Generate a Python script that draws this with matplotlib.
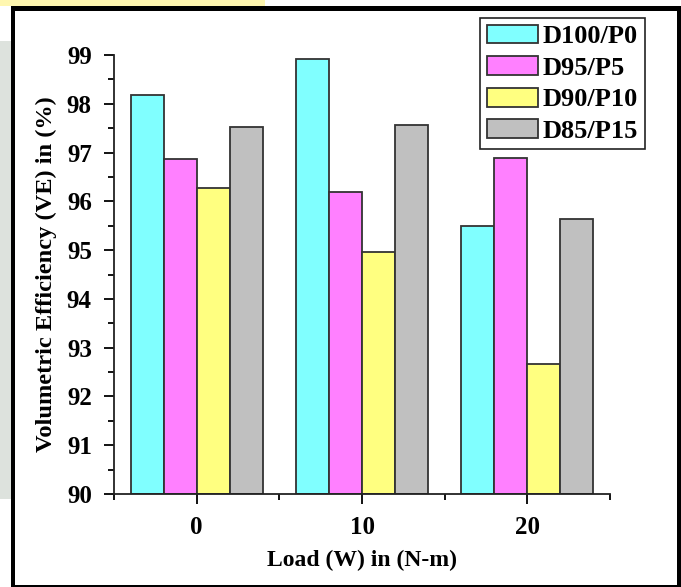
import matplotlib
matplotlib.use("Agg")
import matplotlib.pyplot as plt
import numpy as np
from matplotlib.patches import Rectangle
from matplotlib.lines import Line2D

loads = [0, 10, 20]
series = ["D100/P0", "D95/P5", "D90/P10", "D85/P15"]
d100_p0 = [98.18, 98.92, 95.49]
d95_p5 = [96.86, 96.19, 96.89]
d90_p10 = [96.27, 94.96, 92.67]
d85_p15 = [97.53, 97.56, 95.64]
colors = ["#80FFFF", "#FF80FF", "#FFFF80", "#C0C0C0"]
yticks = [90, 91, 92, 93, 94, 95, 96, 97, 98, 99]

plt.rcParams['font.family'] = ['Liberation Serif', 'DejaVu Serif']
plt.rcParams['font.weight'] = 'bold'

W, H = 681, 587
fig = plt.figure(figsize=(W / 100, H / 100), dpi=100)
fig.patch.set_facecolor("white")

# decorations outside border
fig.add_artist(Rectangle((0, 1 - 6 / H), 265 / W, 6 / H, transform=fig.transFigure,
                         facecolor="#FFF7B0", edgecolor="none", zorder=0))
fig.add_artist(Rectangle((0, 0.15), 11 / W, 0.78, transform=fig.transFigure,
                         facecolor="#DDE2DD", edgecolor="none", zorder=0))

def px_line(x0, y0, x1, y1, lw_px):
    fig.add_artist(Line2D([x0 / W, x1 / W], [1 - y0 / H, 1 - y1 / H], transform=fig.transFigure,
                          color="black", linewidth=lw_px * 0.72, solid_capstyle="projecting", zorder=5))

px_line(13, 7.5, 678.5, 7.5, 5)
px_line(13, 7.5, 13, 586, 4)
px_line(678.5, 7.5, 678.5, 586, 5)
px_line(13, 586, 678.5, 586, 2)

ax = fig.add_axes([114 / W, 1 - 494 / H, (610 - 114) / W, (494 - 55) / H])

data = [d100_p0, d95_p5, d90_p10, d85_p15]
bw = 2.0
x = np.array(loads, dtype=float)
handles = []
for i, (vals, c, name) in enumerate(zip(data, colors, series)):
    offs = (i - 1.5) * bw
    b = ax.bar(x + offs, np.array(vals) - 90, bottom=90, width=bw, color=c,
               edgecolor="#333333", linewidth=1.3, label=name)
    handles.append(b)

ax.set_xlim(-5, 25)
ax.set_ylim(90, 99)
ax.set_xticks(loads)
ax.set_xticks([-5, 5, 15, 25], minor=True)
ax.set_yticks(yticks)
ax.set_yticks(np.arange(90.5, 99, 1.0), minor=True)
ax.tick_params(axis="both", which="major", direction="out", length=7, width=1.3,
               labelsize=18, colors="black")
ax.tick_params(axis="both", which="minor", direction="out", length=4, width=1.3)
ax.tick_params(axis="x", pad=9)
ax.tick_params(axis="y", pad=9)
for lab in ax.get_xticklabels() + ax.get_yticklabels():
    lab.set_fontweight("bold")
for s in ["top", "right"]:
    ax.spines[s].set_visible(False)
for s in ["left", "bottom"]:
    ax.spines[s].set_linewidth(1.3)
    ax.spines[s].set_color("#222222")

ax.set_xlabel("Load (W) in (N-m)", fontsize=17, fontweight="bold", labelpad=8)
ax.set_ylabel("Volumetric Efficiency (VE) in (%)", fontsize=17.6, fontweight="bold", labelpad=7)

leg = ax.legend(handles=handles, labels=series, loc="upper right",
                bbox_to_anchor=(645 / W, 1 - 18 / H), bbox_transform=fig.transFigure,
                borderaxespad=0, fancybox=False, shadow=False, framealpha=1,
                edgecolor="#222222", prop={"family": "Liberation Serif", "weight": "bold", "size": 19},
                handlelength=1.93, handleheight=0.72, labelspacing=0.3, handletextpad=0.2,
                borderpad=0.25)
leg.get_frame().set_linewidth(1.2)

fig.savefig("out.png", dpi=100)
